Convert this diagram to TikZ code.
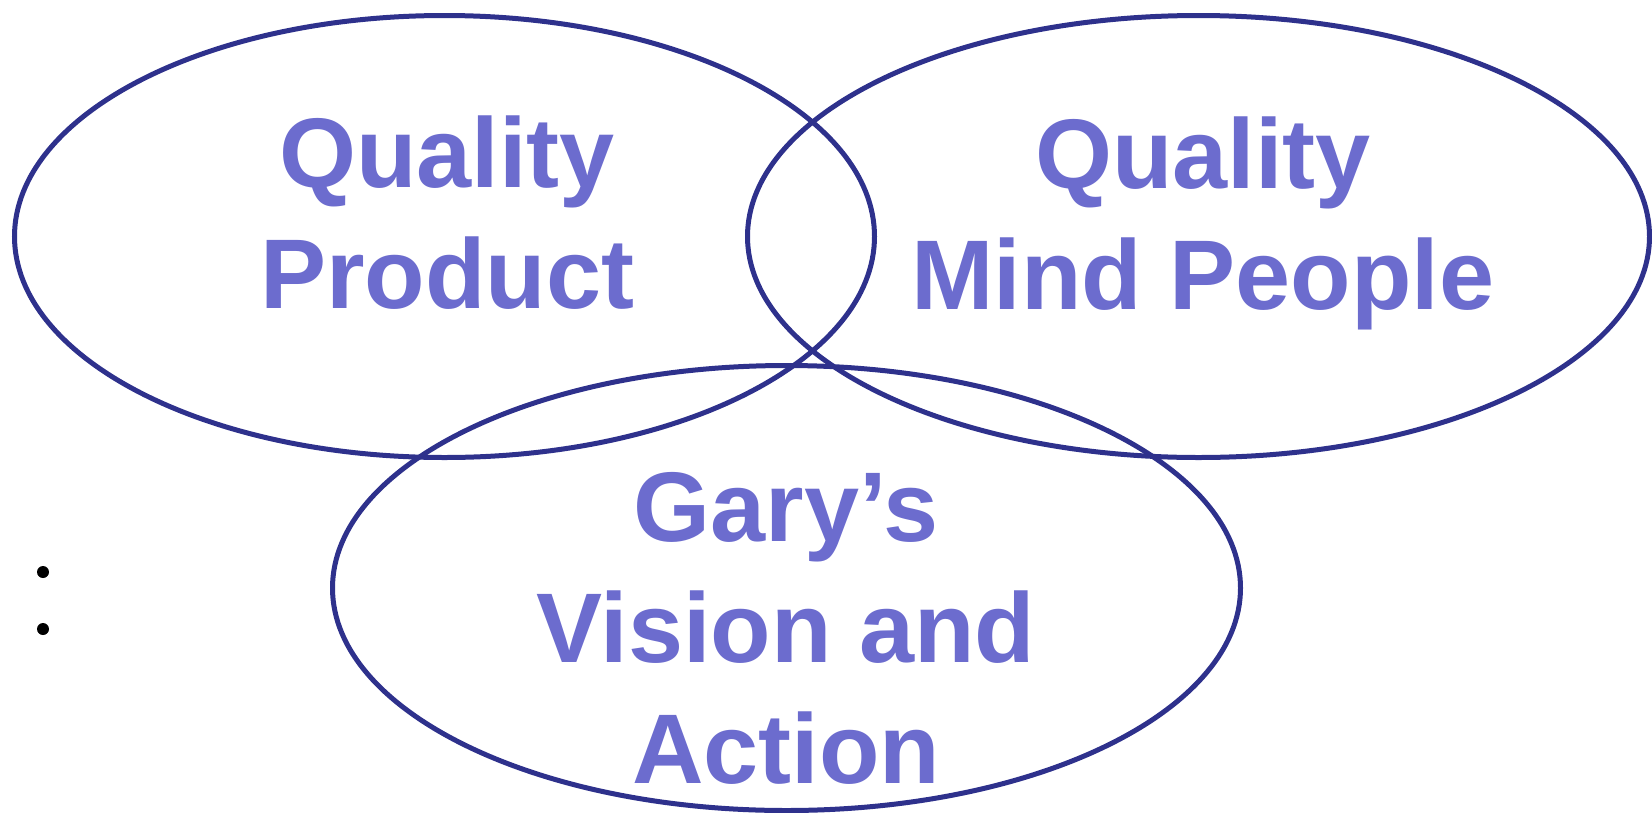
\documentclass[tikz,border=0pt]{standalone}
\usepackage{fontspec}
\setmainfont{Liberation Sans}
\usetikzlibrary{shapes.geometric}
\definecolor{ringcol}{RGB}{46,49,140}
\definecolor{txtcol}{RGB}{108,108,206}
\tikzset{
  ring/.style={ellipse, draw=ringcol, line width=5pt, inner sep=0pt},
  label/.style={text=txtcol, font=\fontsize{99}{121}\selectfont\bfseries, align=center, inner sep=0pt, anchor=base},
  dot/.style={circle, fill=black, inner sep=0pt, minimum size=12pt}
}
\begin{document}
\begin{tikzpicture}[x=1pt,y=-1pt]
\useasboundingbox (0,0) rectangle (1652,812);
\node[ring, minimum width=860pt, minimum height=442pt] (e1) at (444.5,236.5) {};
\node[ring, minimum width=902pt, minimum height=442pt] (e2) at (1198.5,236.5) {};
\node[ring, minimum width=908pt, minimum height=445pt] (e3) at (786.5,588) {};
\node[label] (t1) at (447,308) {Quality\\Product};
\node[label] (t2) at (1203,309) {Quality\\Mind People};
\node[label] (t3) at (786,783) {Gary’s\\Vision and\\Action};
\node[dot] (b1) at (43,572) {};
\node[dot] (b2) at (43,629) {};
\end{tikzpicture}
\end{document}
